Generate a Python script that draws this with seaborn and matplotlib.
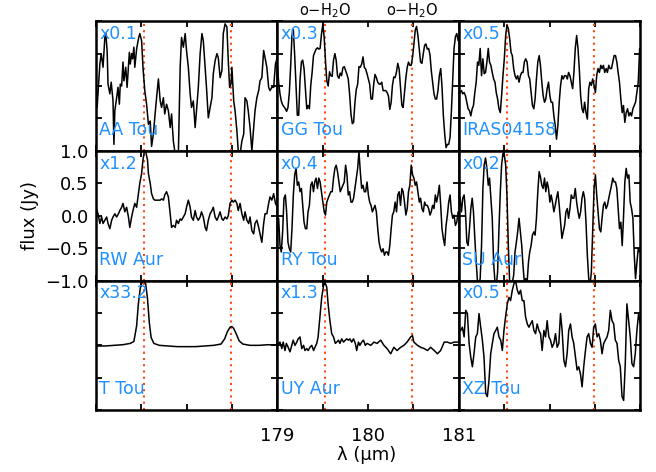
import matplotlib
matplotlib.use("Agg")
import pandas as pd
import seaborn as sns
from matplotlib import pyplot as plt

# o-H2O line positions (micron)
water_lines = [179.527, 180.488]

stars = ["AA Tou", "GG Tou", "IRAS04158",
         "RW Aur", "RY Tou", "SU Aur",
         "T Tou", "UY Aur", "XZ Tou"]
scales = ["0.1", "0.3", "0.5",
          "1.2", "0.4", "0.2",
          "33.2", "1.3", "0.5"]

wave_grid = [
    179.000, 179.015, 179.030, 179.044, 179.059, 179.074, 179.089, 179.103, 179.118, 179.133,
    179.148, 179.162, 179.177, 179.192, 179.207, 179.221, 179.236, 179.251, 179.266, 179.280,
    179.295, 179.310, 179.325, 179.339, 179.354, 179.369, 179.384, 179.399, 179.413, 179.428,
    179.443, 179.458, 179.472, 179.487, 179.502, 179.517, 179.531, 179.546, 179.561, 179.576,
    179.590, 179.605, 179.620, 179.635, 179.649, 179.664, 179.679, 179.694, 179.708, 179.723,
    179.738, 179.753, 179.768, 179.782, 179.797, 179.812, 179.827, 179.841, 179.856, 179.871,
    179.886, 179.900, 179.915, 179.930, 179.945, 179.959, 179.974, 179.989, 180.004, 180.018,
    180.033, 180.048, 180.063, 180.077, 180.092, 180.107, 180.122, 180.137, 180.151, 180.166,
    180.181, 180.196, 180.210, 180.225, 180.240, 180.255, 180.269, 180.284, 180.299, 180.314,
    180.328, 180.343, 180.358, 180.373, 180.387, 180.402, 180.417, 180.432, 180.446, 180.461,
    180.476, 180.491, 180.506, 180.520, 180.535, 180.550, 180.565, 180.579, 180.594, 180.609,
    180.624, 180.638, 180.653, 180.668, 180.683, 180.697, 180.712, 180.727, 180.742, 180.756,
    180.771, 180.786, 180.801, 180.815, 180.830, 180.845, 180.860, 180.875, 180.889, 180.904,
    180.919, 180.934, 180.948, 180.963, 180.978, 180.993]

aa_tou_wave = [
    179.000, 179.015, 179.045, 179.06, 179.08, 179.10, 179.11, 179.125, 179.135, 179.155,
    179.17, 179.19, 179.20, 179.21, 179.23, 179.245, 179.26, 179.27, 179.285, 179.30,
    179.31, 179.33, 179.345, 179.37, 179.38, 179.395, 179.405, 179.42, 179.43, 179.45,
    179.47, 179.485, 179.505, 179.52, 179.54, 179.56, 179.58, 179.60, 179.615, 179.635,
    179.65, 179.67, 179.69, 179.71, 179.725, 179.745, 179.76, 179.78, 179.80, 179.82,
    179.835, 179.855, 179.875, 179.89, 179.91, 179.93, 179.945, 179.965, 179.985, 180.00,
    180.02, 180.04, 180.055, 180.075, 180.095, 180.11, 180.13, 180.15, 180.17, 180.185,
    180.205, 180.22, 180.24, 180.26, 180.28, 180.295, 180.315, 180.335, 180.35, 180.37,
    180.39, 180.405, 180.425, 180.445, 180.46, 180.475, 180.49, 180.50, 180.52, 180.535,
    180.555, 180.57, 180.59, 180.61, 180.63, 180.645, 180.665, 180.68, 180.70, 180.72,
    180.74, 180.755, 180.775, 180.795, 180.81, 180.83, 180.85, 180.865, 180.885, 180.905,
    180.92, 180.94, 180.96, 180.98, 181.00]
aa_tou_flux = [
    0.13, -0.33, 0.34, 0.50, 0.29, 0.75, 0.81, 0.55, 0.03, -0.12,
    0.06, -0.23, -0.90, -0.38, -0.18, -0.02, -0.28, 0.03, 0.0, 0.37,
    0.08, 0.29, -0.02, 0.52, 0.34, 0.50, 0.42, 0.60, 0.29, 0.57,
    0.73, 0.81, 0.70, 0.29, -0.07, -0.28, -0.59, -0.54, -0.93, -0.74,
    -0.49, -0.18, 0.11, -0.23, -0.33, -0.18, -0.43, -0.28, -0.38, -0.64,
    -0.43, -0.85, -1.05, -1.10, -1.05, 0.29, 0.75, 0.60, 0.81, 0.55,
    0.29, -0.12, -0.33, -0.23, -0.64, -0.38, -0.02, 0.50, 0.81, 0.70,
    0.29, -0.02, -0.49, -0.33, -0.18, 0.19, 0.39, 0.50, 0.44, 0.13,
    0.24, 0.81, 0.96, 0.91, 0.39, -0.02, 0.03, 0.29, -0.23, -0.38,
    -0.69, -1.0, -1.05, -0.85, -0.74, -0.18, -0.23, -0.38, -0.64, -1.0,
    -0.64, -0.38, -0.18, -0.07, 0.08, 0.13, 0.55, 0.44, 0.29, -0.02,
    -0.07, -0.02, -0.02, 0.34, 0.44]

gg_tou_flux = [
    0.32, 0.06, -0.12, -0.23, -0.29, -0.32, -0.35, -0.39, -0.33, -0.10,
    0.32, 0.78, 0.87, 0.47, -0.02, -0.45, -0.45, 0.10, 0.37, 0.40,
    0.27, -0.04, -0.35, -0.30, -0.35, 0.01, 0.21, 0.47, 0.52, 0.57,
    0.59, 0.57, 0.58, 0.80, 0.95, 0.75, 0.40, 0.08, 0.0, 0.22,
    0.16, 0.15, 0.40, 0.50, 0.40, 0.16, 0.12, 0.20, 0.16, 0.28,
    0.30, 0.24, 0.18, 0.11, -0.12, -0.43, -0.58, -0.56, -0.25, -0.05,
    0.03, 0.30, 0.29, 0.34, 0.45, 0.29, 0.26, 0.19, 0.11, 0.03,
    -0.20, -0.20, 0.03, 0.18, 0.13, 0.06, 0.03, 0.03, 0.06, -0.07,
    -0.07, -0.07, -0.10, -0.15, -0.36, -0.25, 0.01, 0.14, 0.13, 0.22,
    0.35, 0.26, -0.02, -0.30, -0.33, -0.10, 0.13, 0.29, 0.37, 0.32,
    0.32, 0.45, 0.65, 0.86, 0.92, 0.78, 0.57, 0.37, 0.35, 0.50,
    0.63, 0.65, 0.57, 0.58, 0.48, 0.24, 0.06, -0.12, -0.20, -0.20,
    -0.07, 0.16, 0.27, 0.0, -0.45, -0.74, -0.95, -0.90, -0.90, -0.79,
    -0.38, 0.12, 0.58, 0.76, 0.81, 0.70]

iras_flux = [
    -0.15, -0.10, -0.07, -0.12, -0.10, -0.15, -0.25, -0.35, -0.38, -0.46,
    -0.35, -0.30, -0.10, 0.06, 0.37, 0.32, 0.58, 0.16, 0.42, 0.19,
    0.21, 0.37, 0.58, 0.37, 0.32, 0.21, 0.11, 0.06, -0.10, -0.20,
    -0.35, -0.41, -0.15, 0.16, 0.42, 0.78, 0.94, 0.89, 0.73, 0.52,
    0.47, 0.27, 0.16, 0.11, 0.16, 0.06, 0.16, 0.21, 0.21, 0.37,
    0.42, 0.37, 0.16, 0.11, -0.10, -0.30, -0.35, -0.20, 0.11, 0.37,
    0.47, 0.32, 0.06, -0.15, -0.25, -0.20, -0.04, 0.06, -0.15, -0.25,
    -0.25, -0.46, -0.61, -0.82, -0.61, -0.25, 0.01, 0.16, 0.11, 0.16,
    0.16, 0.11, 0.21, 0.16, 0.06, -0.04, 0.21, 0.58, 0.78, 0.58,
    0.27, -0.15, -0.35, -0.41, -0.25, -0.41, -0.51, -0.04, 0.06, 0.01,
    0.11, 0.01, -0.10, 0.16, 0.27, 0.21, 0.32, 0.27, 0.32, 0.21,
    0.27, 0.21, 0.32, 0.27, 0.27, 0.37, 0.47, 0.47, 0.37, 0.21,
    0.06, -0.20, -0.41, -0.30, -0.56, -0.41, -0.35, -0.46, -0.41, -0.46,
    -0.35, -0.30, -0.25, -0.10, 0.06, 0.58]

rw_aur_wave = [
    179.00, 179.025, 179.045, 179.065, 179.08, 179.10, 179.12, 179.135, 179.155, 179.175,
    179.19, 179.21, 179.23, 179.25, 179.265, 179.285, 179.30, 179.32, 179.34, 179.36,
    179.375, 179.395, 179.41, 179.43, 179.45, 179.47, 179.485, 179.505, 179.52, 179.535,
    179.55, 179.57, 179.58, 179.60, 179.615, 179.635, 179.65, 179.67, 179.69, 179.71,
    179.725, 179.745, 179.76, 179.78, 179.80, 179.82, 179.835, 179.855, 179.875, 179.89,
    179.91, 179.93, 179.945, 179.965, 179.985, 180.00, 180.02, 180.04, 180.055, 180.075,
    180.095, 180.11, 180.13, 180.15, 180.165, 180.185, 180.205, 180.22, 180.24, 180.26,
    180.28, 180.295, 180.315, 180.335, 180.35, 180.37, 180.39, 180.405, 180.425, 180.445,
    180.46, 180.48, 180.50, 180.515, 180.535, 180.555, 180.57, 180.59, 180.61, 180.63,
    180.645, 180.665, 180.685, 180.70, 180.72, 180.74, 180.755, 180.775, 180.795, 180.81,
    180.83, 180.85, 180.865, 180.885, 180.905, 180.92, 180.94, 180.96, 180.98, 181.00]
rw_aur_flux = [
    0.13, 0.03, -0.12, -0.02, -0.12, -0.07, -0.02, -0.12, -0.20, -0.07,
    -0.02, 0.03, -0.02, 0.03, 0.08, 0.13, 0.19, 0.06, 0.13, -0.02,
    -0.18, -0.02, 0.08, 0.19, 0.13, 0.34, 0.50, 0.65, 0.86, 0.99,
    0.99, 0.86, 0.65, 0.50, 0.34, 0.26, 0.24, 0.24, 0.24, 0.24,
    0.26, 0.24, 0.32, 0.37, 0.29, 0.03, -0.18, -0.15, -0.18, -0.07,
    -0.12, -0.05, -0.07, -0.02, 0.03, 0.13, 0.24, 0.13, -0.02, -0.07,
    0.08, -0.02, -0.07, -0.02, 0.06, -0.02, -0.18, -0.23, -0.07, 0.03,
    0.08, 0.13, -0.02, -0.07, -0.02, 0.06, -0.05, -0.07, -0.02, -0.05,
    0.0, 0.19, 0.24, 0.21, 0.24, 0.19, 0.08, 0.19, 0.03, -0.07,
    0.06, -0.07, -0.12, -0.02, -0.23, -0.28, -0.12, -0.07, -0.18, -0.28,
    -0.41, -0.12, 0.03, 0.03, 0.19, 0.29, 0.24, 0.34, 0.19, 0.13]

ry_tou_flux = [
    -0.30, -0.04, -0.46, -0.56, -0.25, 0.27, 0.32, 0.06, -0.41, -0.51,
    -0.56, -0.20, 0.32, 0.63, 0.73, 0.47, 0.52, 0.37, 0.42, 0.16,
    -0.10, -0.20, -0.20, 0.06, 0.16, 0.47, 0.52, 0.37, 0.52, 0.58,
    0.42, 0.58, 0.52, 0.37, 0.21, 0.06, 0.01, 0.21, 0.27, 0.32,
    0.37, 0.37, 0.58, 0.73, 0.78, 0.68, 0.52, 0.37, 0.42, 0.47,
    0.52, 0.78, 0.63, 0.32, 0.37, 0.21, 0.21, 0.27, 0.42, 0.58,
    0.73, 0.99, 0.68, 0.42, 0.47, 0.37, 0.37, 0.52, 0.32, 0.21,
    0.16, 0.06, 0.11, 0.16, 0.06, -0.20, -0.41, -0.51, -0.56, -0.51,
    -0.61, -0.56, -0.56, -0.61, -0.46, -0.20, 0.01, 0.06, 0.21, 0.06,
    0.32, 0.37, 0.16, 0.42, 0.37, 0.21, 0.01, 0.11, 0.37, 0.47,
    0.78, 0.63, 0.58, 0.47, 0.52, 0.37, 0.21, 0.27, 0.11, 0.06,
    0.21, 0.16, 0.16, 0.11, 0.01, 0.06, 0.16, 0.11, 0.32, 0.21,
    0.32, 0.47, 0.16, -0.20, -0.35, -0.46, -0.15, 0.01, 0.21, 0.32,
    0.06, -0.04, 0.01, -0.15, -0.10, 0.06]

su_aur_flux = [
    0.32, 0.27, 0.06, 0.27, 0.32, 0.06, -0.41, -0.46, -0.20, 0.11,
    0.27, 0.06, -0.35, -0.72, -1.03, -1.08, -0.97, -0.46, 0.42, 0.78,
    0.89, 0.73, 0.47, 0.58, 0.27, -0.04, -0.72, -1.03, -1.08, -0.87,
    -0.20, 0.37, 0.78, 0.96, 0.94, 0.78, 0.32, -0.46, -1.03, -1.08,
    -1.03, -0.92, -0.56, -0.41, -0.25, -0.04, -0.25, -0.46, -0.77, -1.03,
    -0.97, -1.03, -0.72, -0.56, -0.46, -0.30, -0.25, -0.30, -0.04, 0.37,
    0.68, 0.60, 0.47, 0.42, 0.58, 0.37, 0.52, 0.42, 0.21, 0.32,
    0.21, 0.06, 0.16, 0.27, 0.37, 0.16, -0.10, -0.35, -0.25, -0.15,
    0.06, 0.11, -0.04, 0.11, 0.32, 0.27, 0.27, 0.42, 0.21, 0.06,
    -0.04, 0.06, 0.27, 0.37, 0.27, -0.10, -0.61, -0.97, -1.08, -0.87,
    -0.20, 0.42, 0.63, 0.32, 0.06, -0.20, -0.25, -0.04, 0.16, 0.21,
    0.11, 0.16, 0.27, 0.37, 0.47, 0.58, 0.52, 0.52, 0.42, 0.11,
    -0.20, -0.10, -0.46, -0.04, 0.52, 0.73, 0.58, 0.63, 0.21, 0.11,
    -0.04, -0.61, -0.97, -0.72, -0.51, -0.56]

xz_tou_wave = [
    179.000, 179.022, 179.040, 179.059, 179.077, 179.095, 179.114, 179.132, 179.150, 179.168,
    179.187, 179.205, 179.223, 179.242, 179.260, 179.278, 179.297, 179.315, 179.333, 179.352,
    179.370, 179.388, 179.407, 179.425, 179.443, 179.462, 179.480, 179.498, 179.516, 179.535,
    179.553, 179.571, 179.590, 179.608, 179.626, 179.645, 179.663, 179.681, 179.700, 179.718,
    179.736, 179.755, 179.773, 179.791, 179.810, 179.828, 179.846, 179.864, 179.883, 179.901,
    179.919, 179.938, 179.956, 179.974, 179.993, 180.011, 180.029, 180.048, 180.066, 180.084,
    180.103, 180.121, 180.139, 180.158, 180.176, 180.194, 180.212, 180.231, 180.249, 180.267,
    180.286, 180.304, 180.322, 180.341, 180.359, 180.377, 180.396, 180.414, 180.432, 180.451,
    180.469, 180.487, 180.505, 180.524, 180.542, 180.560, 180.579, 180.597, 180.615, 180.634,
    180.652, 180.670, 180.689, 180.707, 180.725, 180.744, 180.762, 180.780, 180.799, 180.817,
    180.835, 180.853, 180.872, 180.890, 180.908, 180.927, 180.945, 180.963, 180.982, 181.000]
xz_tou_flux = [
    0.21, 0.23, 0.28, 0.13, 0.54, 0.49, 0.03, -0.18, -0.33, -0.13,
    0.13, 0.18, 0.49, 0.28, 0.08, -0.18, -0.74, -0.79, -0.54, -0.13,
    0.03, 0.18, 0.23, 0.28, 0.13, 0.08, -0.08, 0.23, 0.44, 0.64,
    0.74, 0.69, 0.85, 0.95, 1.0, 0.85, 0.79, 0.85, 0.69, 0.69,
    0.44, 0.33, 0.28, 0.33, 0.38, 0.23, 0.18, 0.33, 0.23, 0.18,
    -0.08, 0.23, 0.13, 0.38, 0.13, 0.08, -0.03, 0.03, 0.18, -0.03,
    0.03, 0.49, 0.23, -0.23, -0.33, -0.13, 0.23, 0.33, 0.13, 0.03,
    -0.18, -0.38, -0.33, -0.44, -0.64, -0.33, -0.08, 0.13, 0.18, 0.03,
    -0.03, 0.28, 0.33, 0.13, 0.18, 0.08, -0.13, 0.03, 0.08, 0.13,
    0.23, 0.54, 0.38, 0.33, 0.08, 0.03, -0.23, -0.33, -0.79, -0.85,
    -0.28, 0.64, 0.38, 0.13, -0.28, -0.33, -0.13, 0.23, 0.49, 0.33]

t_tou_wave = [
    179.00, 179.10, 179.20, 179.30, 179.38, 179.42, 179.45, 179.47, 179.49, 179.51,
    179.53, 179.55, 179.57, 179.59, 179.61, 179.64, 179.70, 179.80, 179.90, 180.00,
    180.10, 180.20, 180.30, 180.38, 180.42, 180.45, 180.48, 180.50, 180.52, 180.55,
    180.58, 180.62, 180.70, 180.80, 180.90, 181.00]
t_tou_flux = [
    -0.01, -0.01, 0.0, 0.01, 0.03, 0.06, 0.30, 0.65, 0.88, 0.97,
    0.99, 0.95, 0.72, 0.35, 0.12, 0.03, 0.0, -0.01, -0.02, -0.02,
    -0.02, -0.01, 0.0, 0.02, 0.10, 0.21, 0.28, 0.29, 0.26, 0.17,
    0.07, 0.02, 0.0, 0.0, 0.01, 0.0]

uy_aur_wave = [
    179.00, 179.03, 179.05, 179.065, 179.085, 179.10, 179.12, 179.14, 179.16, 179.175,
    179.195, 179.215, 179.23, 179.25, 179.27, 179.29, 179.305, 179.325, 179.34, 179.36,
    179.38, 179.40, 179.415, 179.435, 179.45, 179.47, 179.49, 179.51, 179.525, 179.545,
    179.56, 179.58, 179.60, 179.62, 179.64, 179.655, 179.675, 179.69, 179.71, 179.73,
    179.75, 179.765, 179.785, 179.80, 179.82, 179.84, 179.86, 179.875, 179.895, 179.91,
    179.93, 179.95, 179.97, 179.99, 180.03, 180.065, 180.10, 180.14, 180.175, 180.21,
    180.25, 180.285, 180.32, 180.36, 180.395, 180.43, 180.47, 180.49, 180.505, 180.545,
    180.58, 180.62, 180.655, 180.69, 180.73, 180.765, 180.80, 180.84, 180.875, 180.91,
    180.95, 181.00]
uy_aur_flux = [
    0.0, 0.05, -0.05, 0.05, -0.08, 0.03, -0.03, -0.10, 0.0, 0.08,
    0.0, 0.05, 0.10, 0.13, -0.05, 0.0, -0.08, -0.05, -0.08, -0.03,
    0.0, -0.08, -0.03, 0.03, 0.13, 0.44, 0.74, 0.92, 0.97, 0.90,
    0.64, 0.38, 0.18, 0.13, 0.03, 0.05, 0.08, 0.03, 0.10, 0.05,
    0.08, 0.10, 0.08, 0.10, 0.05, 0.10, 0.03, -0.08, 0.05, 0.0,
    0.05, 0.08, 0.0, 0.03, 0.0, 0.05, 0.03, 0.08, 0.0, -0.05,
    -0.13, -0.03, -0.08, -0.03, 0.0, 0.05, 0.13, 0.15, 0.05, 0.0,
    -0.03, -0.05, -0.08, -0.03, -0.08, -0.13, -0.08, 0.05, 0.05, 0.03,
    0.05, 0.05]

waves = [aa_tou_wave, wave_grid, wave_grid,
         rw_aur_wave, wave_grid, wave_grid,
         t_tou_wave, uy_aur_wave, xz_tou_wave]
fluxes = [aa_tou_flux, gg_tou_flux, iras_flux,
          rw_aur_flux, ry_tou_flux, su_aur_flux,
          t_tou_flux, uy_aur_flux, xz_tou_flux]

sns.set_style("ticks")
plt.rcParams["font.family"] = ["DejaVu Sans"]
plt.rcParams["text.color"] = "black"
plt.rcParams["xtick.color"] = "black"
plt.rcParams["ytick.color"] = "black"
blue = "#1E90FF"
orange = "#FF4A12"

fig, axes = plt.subplots(3, 3, figsize=(6.56, 4.72), dpi=100)
fig.subplots_adjust(left=0.146, right=0.976, top=0.955, bottom=0.131, wspace=0, hspace=0)

for i, ax in enumerate(axes.flat):
    df = pd.DataFrame({"wave": waves[i], "flux": fluxes[i]})
    for w in water_lines:
        ax.axvline(w, color=orange, lw=1.5, ls=(0, (1, 2)), zorder=1)
    sns.lineplot(data=df, x="wave", y="flux", ax=ax, color="black", lw=1.1,
                 estimator=None, sort=False, zorder=2)
    ax.set_xlim(179, 181)
    ax.set_ylim(-1, 1)
    ax.set_xticks([179, 179.5, 180, 180.5, 181])
    ax.set_yticks([-1, -0.5, 0, 0.5, 1])
    ax.set_xlabel("")
    ax.set_ylabel("")
    ax.tick_params(direction="in", top=True, right=True, length=4, width=1.3,
                   labelbottom=False, labelleft=False, labelsize=13,
                   color="black", labelcolor="black")
    for sp in ax.spines.values():
        sp.set_linewidth(1.8)
        sp.set_color("black")
    ax.text(0.02, 0.9, "x" + scales[i], transform=ax.transAxes, color=blue,
            fontsize=12.5, ha="left", va="center")
    ax.text(0.02, 0.16, stars[i], transform=ax.transAxes, color=blue,
            fontsize=12.5, ha="left", va="center")

# y tick labels on the middle-left panel only
axes[1, 0].tick_params(labelleft=True, pad=5)
axes[1, 0].set_yticklabels(["\u22121.0", "\u22120.5", "0.0", "0.5", "1.0"])

# x tick labels on the bottom-middle panel only
axes[2, 1].tick_params(labelbottom=True, pad=12)
axes[2, 1].set_xticklabels(["179", "", "180", "", "181"])

for w in water_lines:
    axes[0, 1].text(w, 1.085, "o\u2212H$_2$O", transform=axes[0, 1].get_xaxis_transform(),
                    ha="center", va="center", fontsize=10.5, color="black")

fig.text(0.045, 0.543, "flux (Jy)", rotation=90, ha="center", va="center",
         fontsize=13, color="black")
fig.text(0.559, 0.035, "\u03bb (\u03bcm)", ha="center", va="center",
         fontsize=13, color="black")

fig.savefig("out.png", dpi=100)
